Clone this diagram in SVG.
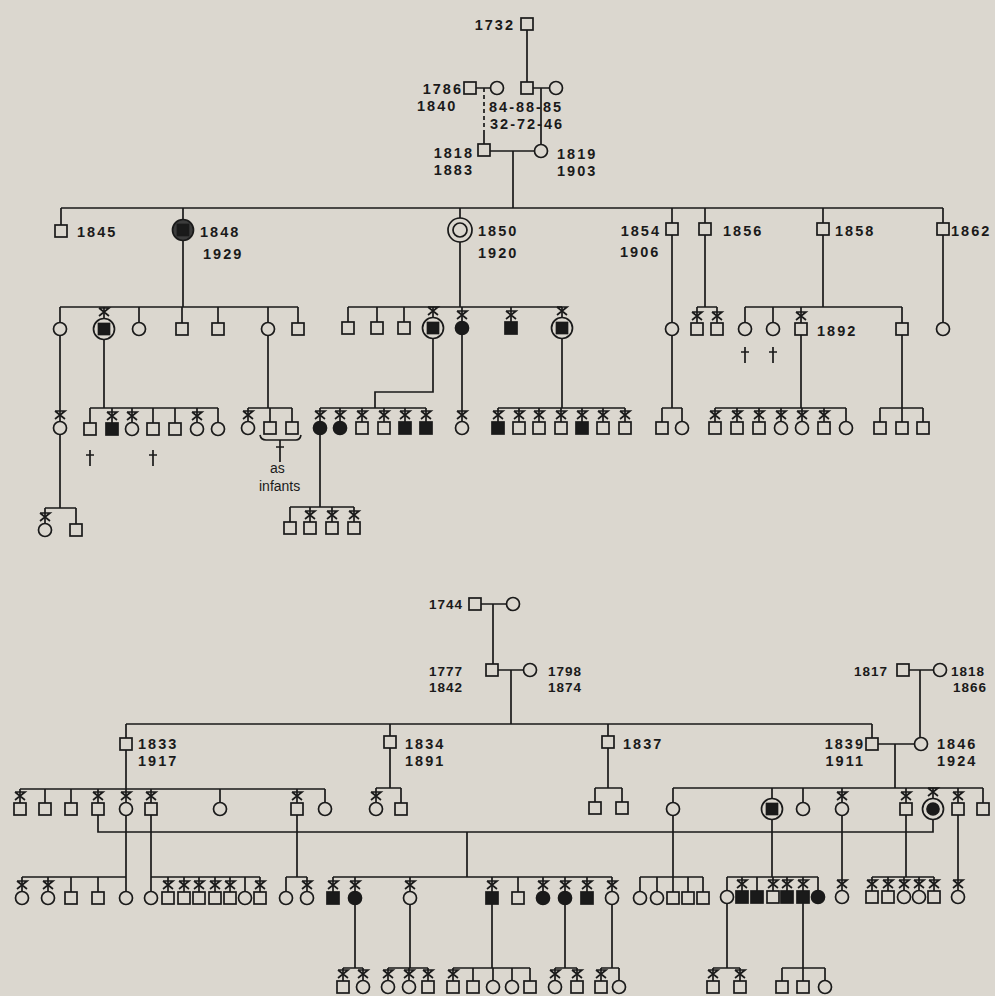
<svg xmlns="http://www.w3.org/2000/svg" xmlns:xlink="http://www.w3.org/1999/xlink" width="995" height="996" viewBox="0 0 995 996">
<style>
.l{stroke:#1a1a1a;stroke-width:1.7;fill:none}
.o{stroke:#1a1a1a;stroke-width:1.7;fill:#dbd7cf}
.f{stroke:#1a1a1a;stroke-width:1.7;fill:#1a1a1a}
.t{font-family:'Liberation Sans',Arial,sans-serif;font-size:14.5px;font-weight:bold;letter-spacing:2px;fill:#1a1a1a}
.s{font-family:'Liberation Sans',Arial,sans-serif;font-size:13.5px;font-weight:bold;letter-spacing:1px;fill:#1a1a1a}
.n{font-family:'Liberation Sans',Arial,sans-serif;font-size:14px;fill:#1a1a1a}
.e{text-anchor:end}
</style>
<defs>
<g id="S"><rect x="-6" y="-6" width="12" height="12" class="o"/></g>
<g id="SF"><rect x="-6" y="-6" width="12" height="12" class="f"/></g>
<g id="C"><circle r="6.5" class="o"/></g>
<g id="CF"><circle r="6.5" class="f"/></g>
<g id="X"><path d="M-5,-17 H5 L-5,-9 M-5,-17 L5,-9" class="l"/></g>
<g id="XH"><path d="M-5,-21 H5 L-5,-13 M-5,-21 L5,-13" class="l"/></g>
<g id="CS"><circle r="10.5" class="o"/><rect x="-5.5" y="-5.5" width="11" height="11" class="f"/></g>
<g id="CC"><circle r="10.5" class="o"/><circle r="6" class="f"/></g>
<g id="DC"><circle r="12" class="o"/><circle r="7" class="o"/></g>
<g id="D"><path d="M0,-8 V8 M-4,-3 H4" class="l"/></g>
</defs>
<rect width="995" height="996" fill="#dbd7cf"/>

<g id="connectors" class="l">
<path d="M527,24 V88 M470,88 H497 M527,88 H556 M541,88 V151 M484,130 V150 M484,151 H541 M513,151 V208"/>
<path d="M484,88 V130" stroke-dasharray="4 3"/>
<path d="M61,208 H943 M61,208 V231 M183,208 V230 M460,208 V230 M672,208 V229 M705,208 V229 M823,208 V229 M943,208 V229"/>
<path d="M183,230 V307 M60,307 H298 M60,307 V329 M104,307 V329 M139,307 V329 M182,307 V329 M218,307 V329 M268,307 V329 M298,307 V329"/>
<path d="M60,329 V428 M104,329 V408 M90,408 H218 M90,408 V429 M112,408 V429 M132,408 V429 M153,408 V429 M175,408 V429 M197,408 V429 M218,408 V429"/>
<path d="M268,329 V408 M248,408 H292 M248,408 V428 M270,408 V428 M292,408 V428"/>
<path d="M260,435 Q261,440 266,440 H296 Q300,440 301,435 M280,440 V462 M276,447 H284"/>
<path d="M60,428 V508 M45,508 H76 M45,508 V530 M76,508 V530"/>
<path d="M460,230 V307 M348,307 H562 M348,307 V328 M377,307 V328 M404,307 V328 M433,307 V328 M462,307 V328 M511,307 V328 M562,307 V328"/>
<path d="M433,328 V392 H375 V408 M320,408 H426 M320,408 V428 M340,408 V428 M362,408 V428 M384,408 V428 M405,408 V428 M426,408 V428"/>
<path d="M462,328 V428"/>
<path d="M562,328 V408 M498,408 H625 M498,408 V428 M519,408 V428 M539,408 V428 M561,408 V428 M582,408 V428 M603,408 V428 M625,408 V428"/>
<path d="M320,428 V507 M290,507 H354 M290,507 V528 M310,507 V528 M332,507 V528 M354,507 V528"/>
<path d="M672,229 V408 M662,408 H682 M662,408 V428 M682,408 V428"/>
<path d="M705,229 V307 M697,307 H717 M697,307 V329 M717,307 V329"/>
<path d="M823,229 V307 M745,307 H902 M745,307 V329 M773,307 V329 M801,307 V329 M902,307 V329"/>
<path d="M801,329 V408 M715,408 H846 M715,408 V428 M737,408 V428 M759,408 V428 M781,408 V428 M802,408 V428 M824,408 V428 M846,408 V428"/>
<path d="M902,329 V408 M880,408 H923 M880,408 V428 M902,408 V428 M923,408 V428"/>
<path d="M943,229 V329"/>
<path d="M475,604 H513 M493,604 V670 M492,670 H530 M511,670 V724 M903,670 H940 M920,670 V744"/>
<path d="M126,724 H872 M126,724 V744 M390,724 V742 M608,724 V742 M872,724 V744 M872,744 H921 M895,744 V788"/>
<path d="M126,744 V809 M20,789 H325 M20,789 V809 M45,789 V809 M71,789 V809 M98,789 V809 M151,789 V809 M220,789 V809 M297,789 V809 M325,789 V809"/>
<path d="M390,742 V788 M376,788 H401 M376,788 V809 M401,788 V809"/>
<path d="M608,742 V788 M595,788 H622 M595,788 V808 M622,788 V808"/>
<path d="M673,788 H983 M673,788 V809 M772,788 V809 M803,788 V809 M842,788 V809 M906,788 V809 M933,788 V809 M958,788 V809 M983,788 V809"/>
<path d="M98,809 V832 H933 V809 M467,832 V877"/>
<path d="M126,809 V877 M22,877 H126 M22,877 V898 M48,877 V898 M71,877 V898 M98,877 V898 M126,877 V898"/>
<path d="M151,809 V877 M151,877 H260 M151,877 V898 M168,877 V898 M184,877 V898 M199,877 V898 M215,877 V898 M230,877 V898 M245,877 V898 M260,877 V898"/>
<path d="M297,809 V877 M286,877 H307 M286,877 V898 M307,877 V898"/>
<path d="M333,877 H612 M333,877 V898 M355,877 V898 M410,877 V898 M492,877 V898 M518,877 V898 M543,877 V898 M565,877 V898 M587,877 V898 M612,877 V898"/>
<path d="M673,809 V877 M640,877 H703 M640,877 V898 M657,877 V898 M673,877 V898 M688,877 V898 M703,877 V898"/>
<path d="M772,809 V877 M727,877 H818 M727,877 V897 M742,877 V897 M757,877 V897 M773,877 V897 M787,877 V897 M803,877 V897 M818,877 V897"/>
<path d="M842,809 V897"/>
<path d="M906,809 V877 M872,877 H934 M872,877 V897 M888,877 V897 M904,877 V897 M919,877 V897 M934,877 V897"/>
<path d="M958,809 V897"/>
<path d="M355,898 V968 M343,968 H363 M343,968 V987 M363,968 V987"/>
<path d="M410,898 V968 M388,968 H428 M388,968 V987 M409,968 V987 M428,968 V987"/>
<path d="M492,898 V968 M453,968 H530 M453,968 V987 M473,968 V987 M493,968 V987 M512,968 V987 M530,968 V987"/>
<path d="M565,898 V968 M555,968 H577 M555,968 V987 M577,968 V987"/>
<path d="M612,898 V968 M601,968 H619 M601,968 V987 M619,968 V987"/>
<path d="M727,897 V968 M713,968 H740 M713,968 V987 M740,968 V987"/>
<path d="M803,897 V968 M782,968 H825 M782,968 V987 M803,968 V987 M825,968 V987"/>
</g>

<g id="n1732"><use href="#S" x="527" y="24"/><text class="t e" x="515" y="30">1732</text></g>
<g id="n1786"><use href="#S" x="470" y="88"/><text class="t e" x="463" y="94">1786</text><text class="t" x="417" y="111">1840</text></g>
<g id="n1786w"><use href="#C" x="497" y="88"/></g>
<g id="n1732s"><use href="#S" x="527" y="88"/></g>
<g id="n1732sw"><use href="#C" x="556" y="88"/></g>
<g id="dates"><text class="t" x="489" y="112" letter-spacing="1.2">84-88-85</text><text class="t" x="490" y="129" letter-spacing="1.2">32-72-46</text></g>
<g id="n1818"><use href="#S" x="484" y="150"/><text class="t e" x="474" y="158">1818</text><text class="t e" x="474" y="175">1883</text></g>
<g id="n1819"><use href="#C" x="541" y="151"/><text class="t" x="557" y="159">1819</text><text class="t" x="557" y="176">1903</text></g>

<g id="n1845"><use href="#S" x="61" y="231"/><text class="t" x="77" y="237">1845</text></g>
<g id="n1848"><circle cx="183" cy="230" r="10.5" fill="#3c3c3c" stroke="#1a1a1a" stroke-width="1.7"/><rect x="177.5" y="224.5" width="11" height="11" class="f"/><text class="t" x="200" y="237">1848</text><text class="t" x="203" y="259">1929</text></g>
<g id="n1850"><use href="#DC" x="460" y="230"/><text class="t" x="478" y="236">1850</text><text class="t" x="478" y="258">1920</text></g>
<g id="n1854"><use href="#S" x="672" y="229"/><text class="t e" x="661" y="236">1854</text><text class="t" x="620" y="257">1906</text></g>
<g id="n1856"><use href="#S" x="705" y="229"/><text class="t" x="723" y="236">1856</text></g>
<g id="n1858"><use href="#S" x="823" y="229"/><text class="t" x="835" y="236">1858</text></g>
<g id="n1862"><use href="#S" x="943" y="229"/><text class="t" x="951" y="236">1862</text></g>

<g id="g3a">
<use href="#C" x="60" y="329"/>
<use href="#CS" x="104" y="329"/><use href="#XH" x="104" y="329"/>
<use href="#C" x="139" y="329"/>
<use href="#S" x="182" y="329"/>
<use href="#S" x="218" y="329"/>
<use href="#C" x="268" y="329"/>
<use href="#S" x="298" y="329"/>
</g>
<g id="g3b">
<use href="#S" x="348" y="328"/>
<use href="#S" x="377" y="328"/>
<use href="#S" x="404" y="328"/>
<use href="#CS" x="433" y="328"/><use href="#XH" x="433" y="328"/>
<use href="#CF" x="462" y="328"/><use href="#X" x="462" y="328"/>
<use href="#SF" x="511" y="328"/><use href="#X" x="511" y="328"/>
<use href="#CS" x="562" y="328"/><use href="#XH" x="562" y="328"/>
</g>
<g id="g3c">
<use href="#C" x="672" y="329"/>
<use href="#S" x="697" y="329"/><use href="#X" x="697" y="329"/>
<use href="#S" x="717" y="329"/><use href="#X" x="717" y="329"/>
<use href="#C" x="745" y="329"/><use href="#D" x="745" y="355"/>
<use href="#C" x="773" y="329"/><use href="#D" x="773" y="355"/>
<use href="#S" x="801" y="329"/><use href="#X" x="801" y="329"/>
<text class="t" x="817" y="336">1892</text>
<use href="#S" x="902" y="329"/>
<use href="#C" x="943" y="329"/>
</g>

<g id="g4a">
<use href="#C" x="60" y="428"/><use href="#X" x="60" y="428"/>
<use href="#S" x="90" y="429"/><use href="#D" x="90" y="458"/>
<use href="#SF" x="112" y="429"/><use href="#X" x="112" y="429"/>
<use href="#C" x="132" y="429"/><use href="#X" x="132" y="429"/>
<use href="#S" x="153" y="429"/><use href="#D" x="153" y="458"/>
<use href="#S" x="175" y="429"/>
<use href="#C" x="197" y="429"/><use href="#X" x="197" y="429"/>
<use href="#C" x="218" y="429"/>
<use href="#C" x="248" y="428"/><use href="#X" x="248" y="428"/>
<use href="#S" x="270" y="428"/>
<use href="#S" x="292" y="428"/>
<text class="n" x="270" y="473">as</text>
<text class="n" x="259" y="491">infants</text>
</g>
<g id="g4b">
<use href="#CF" x="320" y="428"/><use href="#X" x="320" y="428"/>
<use href="#CF" x="340" y="428"/><use href="#X" x="340" y="428"/>
<use href="#S" x="362" y="428"/><use href="#X" x="362" y="428"/>
<use href="#S" x="384" y="428"/><use href="#X" x="384" y="428"/>
<use href="#SF" x="405" y="428"/><use href="#X" x="405" y="428"/>
<use href="#SF" x="426" y="428"/><use href="#X" x="426" y="428"/>
<use href="#C" x="462" y="428"/><use href="#X" x="462" y="428"/>
<use href="#SF" x="498" y="428"/><use href="#X" x="498" y="428"/>
<use href="#S" x="519" y="428"/><use href="#X" x="519" y="428"/>
<use href="#S" x="539" y="428"/><use href="#X" x="539" y="428"/>
<use href="#S" x="561" y="428"/><use href="#X" x="561" y="428"/>
<use href="#SF" x="582" y="428"/><use href="#X" x="582" y="428"/>
<use href="#S" x="603" y="428"/><use href="#X" x="603" y="428"/>
<use href="#S" x="625" y="428"/><use href="#X" x="625" y="428"/>
</g>
<g id="g4c">
<use href="#S" x="662" y="428"/>
<use href="#C" x="682" y="428"/>
<use href="#S" x="715" y="428"/><use href="#X" x="715" y="428"/>
<use href="#S" x="737" y="428"/><use href="#X" x="737" y="428"/>
<use href="#S" x="759" y="428"/><use href="#X" x="759" y="428"/>
<use href="#C" x="781" y="428"/><use href="#X" x="781" y="428"/>
<use href="#C" x="802" y="428"/><use href="#X" x="802" y="428"/>
<use href="#S" x="824" y="428"/><use href="#X" x="824" y="428"/>
<use href="#C" x="846" y="428"/>
<use href="#S" x="880" y="428"/>
<use href="#S" x="902" y="428"/>
<use href="#S" x="923" y="428"/>
</g>
<g id="g5a">
<use href="#C" x="45" y="530"/><use href="#X" x="45" y="530"/>
<use href="#S" x="76" y="530"/>
<use href="#S" x="290" y="528"/>
<use href="#S" x="310" y="528"/><use href="#X" x="310" y="528"/>
<use href="#S" x="332" y="528"/><use href="#X" x="332" y="528"/>
<use href="#S" x="354" y="528"/><use href="#X" x="354" y="528"/>
</g>

<g id="n1744"><use href="#S" x="475" y="604"/><use href="#C" x="513" y="604"/><text class="s e" x="463" y="609">1744</text></g>
<g id="n1777"><use href="#S" x="492" y="670"/><text class="s" x="429" y="676">1777</text><text class="s" x="429" y="692">1842</text></g>
<g id="n1798"><use href="#C" x="530" y="670"/><text class="s" x="548" y="676">1798</text><text class="s" x="548" y="692">1874</text></g>
<g id="n1817"><use href="#S" x="903" y="670"/><text class="s e" x="888" y="676">1817</text></g>
<g id="n1818b"><use href="#C" x="940" y="670"/><text class="s" x="951" y="676">1818</text><text class="s" x="953" y="692">1866</text></g>

<g id="n1833"><use href="#S" x="126" y="744"/><text class="t" x="138" y="749">1833</text><text class="t" x="138" y="766">1917</text></g>
<g id="n1834"><use href="#S" x="390" y="742"/><text class="t" x="405" y="749">1834</text><text class="t" x="405" y="766">1891</text></g>
<g id="n1837"><use href="#S" x="608" y="742"/><text class="t" x="623" y="749">1837</text></g>
<g id="n1839"><use href="#S" x="872" y="744"/><text class="t e" x="865" y="749">1839</text><text class="t e" x="865" y="766">1911</text></g>
<g id="n1846"><use href="#C" x="921" y="744"/><text class="t" x="937" y="749">1846</text><text class="t" x="937" y="766">1924</text></g>

<g id="b3a">
<use href="#S" x="20" y="809"/><use href="#X" x="20" y="809"/>
<use href="#S" x="45" y="809"/>
<use href="#S" x="71" y="809"/>
<use href="#S" x="98" y="809"/><use href="#X" x="98" y="809"/>
<use href="#C" x="126" y="809"/><use href="#X" x="126" y="809"/>
<use href="#S" x="151" y="809"/><use href="#X" x="151" y="809"/>
<use href="#C" x="220" y="809"/>
<use href="#S" x="297" y="809"/><use href="#X" x="297" y="809"/>
<use href="#C" x="325" y="809"/>
<use href="#C" x="376" y="809"/><use href="#X" x="376" y="809"/>
<use href="#S" x="401" y="809"/>
<use href="#S" x="595" y="808"/>
<use href="#S" x="622" y="808"/>
</g>
<g id="b3b">
<use href="#C" x="673" y="809"/>
<use href="#CS" x="772" y="809"/>
<use href="#C" x="803" y="809"/>
<use href="#C" x="842" y="809"/><use href="#X" x="842" y="809"/>
<use href="#S" x="906" y="809"/><use href="#X" x="906" y="809"/>
<use href="#CC" x="933" y="809"/><use href="#XH" x="933" y="809"/>
<use href="#S" x="958" y="809"/><use href="#X" x="958" y="809"/>
<use href="#S" x="983" y="809"/>
</g>

<g id="b4a">
<use href="#C" x="22" y="898"/><use href="#X" x="22" y="898"/>
<use href="#C" x="48" y="898"/><use href="#X" x="48" y="898"/>
<use href="#S" x="71" y="898"/>
<use href="#S" x="98" y="898"/>
<use href="#C" x="126" y="898"/>
<use href="#C" x="151" y="898"/>
<use href="#S" x="168" y="898"/><use href="#X" x="168" y="898"/>
<use href="#S" x="184" y="898"/><use href="#X" x="184" y="898"/>
<use href="#S" x="199" y="898"/><use href="#X" x="199" y="898"/>
<use href="#S" x="215" y="898"/><use href="#X" x="215" y="898"/>
<use href="#S" x="230" y="898"/><use href="#X" x="230" y="898"/>
<use href="#C" x="245" y="898"/>
<use href="#S" x="260" y="898"/><use href="#X" x="260" y="898"/>
<use href="#C" x="286" y="898"/>
<use href="#C" x="307" y="898"/><use href="#X" x="307" y="898"/>
</g>
<g id="b4b">
<use href="#SF" x="333" y="898"/><use href="#X" x="333" y="898"/>
<use href="#CF" x="355" y="898"/><use href="#X" x="355" y="898"/>
<use href="#C" x="410" y="898"/><use href="#X" x="410" y="898"/>
<use href="#SF" x="492" y="898"/><use href="#X" x="492" y="898"/>
<use href="#S" x="518" y="898"/>
<use href="#CF" x="543" y="898"/><use href="#X" x="543" y="898"/>
<use href="#CF" x="565" y="898"/><use href="#X" x="565" y="898"/>
<use href="#SF" x="587" y="898"/><use href="#X" x="587" y="898"/>
<use href="#C" x="612" y="898"/><use href="#X" x="612" y="898"/>
</g>
<g id="b4c">
<use href="#C" x="640" y="898"/>
<use href="#C" x="657" y="898"/>
<use href="#S" x="673" y="898"/>
<use href="#S" x="688" y="898"/>
<use href="#S" x="703" y="898"/>
<use href="#C" x="727" y="897"/>
<use href="#SF" x="742" y="897"/><use href="#X" x="742" y="897"/>
<use href="#SF" x="757" y="897"/>
<use href="#S" x="773" y="897"/><use href="#X" x="773" y="897"/>
<use href="#SF" x="787" y="897"/><use href="#X" x="787" y="897"/>
<use href="#SF" x="803" y="897"/><use href="#X" x="803" y="897"/>
<use href="#CF" x="818" y="897"/>
<use href="#C" x="842" y="897"/><use href="#X" x="842" y="897"/>
<use href="#S" x="872" y="897"/><use href="#X" x="872" y="897"/>
<use href="#S" x="888" y="897"/><use href="#X" x="888" y="897"/>
<use href="#C" x="904" y="897"/><use href="#X" x="904" y="897"/>
<use href="#C" x="919" y="897"/><use href="#X" x="919" y="897"/>
<use href="#S" x="934" y="897"/><use href="#X" x="934" y="897"/>
<use href="#C" x="958" y="897"/><use href="#X" x="958" y="897"/>
</g>
<g id="b5">
<use href="#S" x="343" y="987"/><use href="#X" x="343" y="987"/>
<use href="#C" x="363" y="987"/><use href="#X" x="363" y="987"/>
<use href="#C" x="388" y="987"/><use href="#X" x="388" y="987"/>
<use href="#C" x="409" y="987"/><use href="#X" x="409" y="987"/>
<use href="#S" x="428" y="987"/><use href="#X" x="428" y="987"/>
<use href="#S" x="453" y="987"/><use href="#X" x="453" y="987"/>
<use href="#S" x="473" y="987"/>
<use href="#C" x="493" y="987"/>
<use href="#C" x="512" y="987"/>
<use href="#S" x="530" y="987"/>
<use href="#C" x="555" y="987"/><use href="#X" x="555" y="987"/>
<use href="#S" x="577" y="987"/><use href="#X" x="577" y="987"/>
<use href="#S" x="601" y="987"/><use href="#X" x="601" y="987"/>
<use href="#C" x="619" y="987"/>
<use href="#S" x="713" y="987"/><use href="#X" x="713" y="987"/>
<use href="#S" x="740" y="987"/><use href="#X" x="740" y="987"/>
<use href="#S" x="782" y="987"/>
<use href="#S" x="803" y="987"/>
<use href="#C" x="825" y="987"/>
</g>
</svg>
